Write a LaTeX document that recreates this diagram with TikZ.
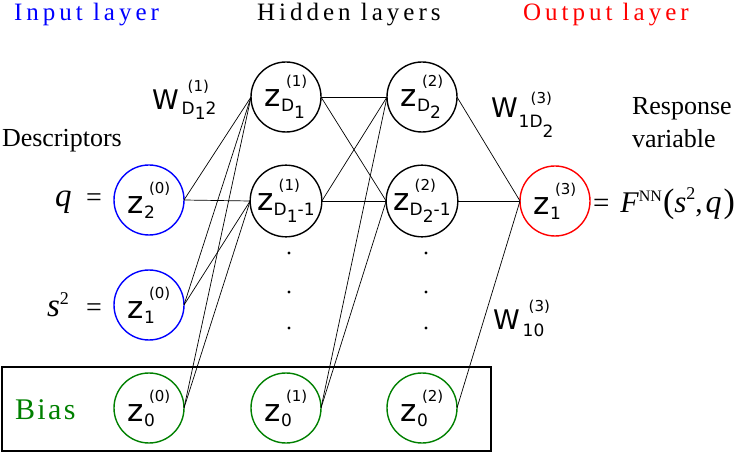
\documentclass[tikz,border=0pt]{standalone}
\usepackage{fontspec}
\setmainfont{Liberation Serif}
\newfontfamily\dvs{DejaVu Sans}
\definecolor{inblue}{RGB}{0,0,255}
\definecolor{outred}{RGB}{255,0,0}
\definecolor{biasgreen}{RGB}{0,128,0}
\newcommand\titlefont{\fontsize{25}{25}\selectfont\addfontfeature{LetterSpace=16}}
\newcommand\zbig{\dvs\fontsize{31}{31}\selectfont}
\newcommand\wbig{\dvs\fontsize{27}{27}\selectfont}
\newcommand\zsm{\dvs\fontsize{17}{17}\selectfont}
\newcommand\zsp{\dvs\fontsize{15}{15}\selectfont}
\newcommand\lowr[1]{\raisebox{-7pt}{#1}}
\newcommand\sz[1]{\fontsize{#1}{#1}\selectfont}
\newsavebox\zsubbox
\newsavebox\zsupbox
\newcommand\zlab[2]{\mbox{\zbig z}\sbox\zsubbox{\zsm\raisebox{-5pt}{#1}}\sbox\zsupbox{\zsp\kern5pt\raisebox{20pt}{#2}}\ifdim\wd\zsubbox>\wd\zsupbox\rlap{\usebox\zsupbox}\usebox\zsubbox\else\rlap{\usebox\zsubbox}\usebox\zsupbox\fi}
\begin{document}
\begin{tikzpicture}[x=1pt,y=-1pt,
  neuron/.style={circle,draw,line width=1.4pt,minimum size=70pt,inner sep=0pt,outer sep=0pt},
  inl/.style={neuron,draw=inblue},
  hid/.style={neuron,draw=black},
  outl/.style={neuron,draw=outred},
  biasn/.style={neuron,draw=biasgreen},
  conn/.style={line width=0.7pt},
  txt/.style={inner sep=0pt,outer sep=0pt,anchor=base west},
  title/.style={txt,font=\titlefont},
  dotn/.style={circle,fill=black,inner sep=0pt,minimum size=3.2pt},
  biasbox/.style={draw=black,line width=2.4pt}
]
\useasboundingbox (0,0) rectangle (747,454);
% titles
\node[title,text=inblue] (tin) at (14,21) {Input layer};
\node[title,text=black] (thid) at (257,21) {Hidden layers};
\node[title,text=outred] (tout) at (523,21) {Output layer};
% side texts
\node[txt,font=\sz{26}] (desc) at (2,147) {Descriptors};
\node[txt,font=\sz{26}] (resp) at (632,115) {Response};
\node[txt,font=\sz{26}] (var) at (632,148) {variable};
\node[txt,font=\sz{33}] (qv) at (55,207) {\textit{q}};
\node[txt,font=\sz{28}] (qeq) at (86,207) {=};
\node[txt,font=\sz{33}] (sv) at (47,317) {\textit{s}\raisebox{13pt}{\sz{18}2}};
\node[txt,font=\sz{28}] (seq) at (86,317) {=};
\node[txt,font=\sz{29}] (fnn) at (593,213) {=\hspace{11pt}{\sz{30}\textit{F}}\raisebox{11pt}{\sz{16}NN}\hspace{1pt}{\sz{34}(}{\sz{31}\textit{s}}\raisebox{13pt}{\sz{18}2},\hspace{3pt}{\sz{32}\textit{q}}\hspace{2pt}{\sz{34})}};
% bias box
\draw[biasbox] (2,367) rectangle (491,451);
\node[txt,text=biasgreen,font=\sz{30}\addfontfeature{LetterSpace=8}] (bias) at (15,419) {Bias};
% neurons
\node[inl] (i2) at (149,200) {\zlab{2}{(0)}};
\node[inl] (i1) at (149,305) {\zlab{1}{(0)}};
\node[biasn] (i0) at (149,408) {\zlab{0}{(0)}};
\node[hid] (h1a) at (286,97) {\zlab{D\lowr{1}}{(1)}};
\node[hid] (h1b) at (286,201) {\zlab{D\lowr{1}-1}{(1)}};
\node[biasn] (h10) at (286,408) {\zlab{0}{(1)}};
\node[hid] (h2a) at (422,97) {\zlab{D\lowr{2}}{(2)}};
\node[hid] (h2b) at (422,201) {\zlab{D\lowr{2}-1}{(2)}};
\node[biasn] (h20) at (422,408) {\zlab{0}{(2)}};
\node[outl] (o1) at (555,201) {\zlab{1}{(3)}};
% dots
\foreach \n/\x in {a/289,b/426}{
  \node[dotn] (d\n1) at (\x,253) {};
  \node[dotn] (d\n2) at (\x,292) {};
  \node[dotn] (d\n3) at (\x,328) {};
}
% weight labels
\node[txt] (w1) at (152,110) {\wbig W\zsm\rlap{\kern9pt\raisebox{18pt}{\zsp(1)}}\kern3pt\raisebox{-5pt}{D\raisebox{-5pt}{1}2}};
\node[txt] (w2) at (491,118) {\wbig W\zsm\rlap{\kern13pt\raisebox{14pt}{\zsp(3)}}\kern1pt\raisebox{-10pt}{1D\raisebox{-10pt}{2}}};
\node[txt] (w3) at (493,330) {\wbig W\zsm\rlap{\kern9pt\raisebox{18pt}{\zsp(3)}}\kern3pt\raisebox{-7pt}{10}};
% connections layer 0 -> 1
\foreach \s in {i2,i1,i0}{
  \foreach \t in {h1a,h1b}{
    \draw[conn] (\s.east) -- (\t.west);
  }
}
% layer 1 -> 2
\foreach \s in {h1a,h1b,h10}{
  \foreach \t in {h2a,h2b}{
    \draw[conn] (\s.east) -- (\t.west);
  }
}
% layer 2 -> output
\foreach \s in {h2a,h2b,h20}{
  \draw[conn] (\s.east) -- (o1.west);
}
\end{tikzpicture}
\end{document}
